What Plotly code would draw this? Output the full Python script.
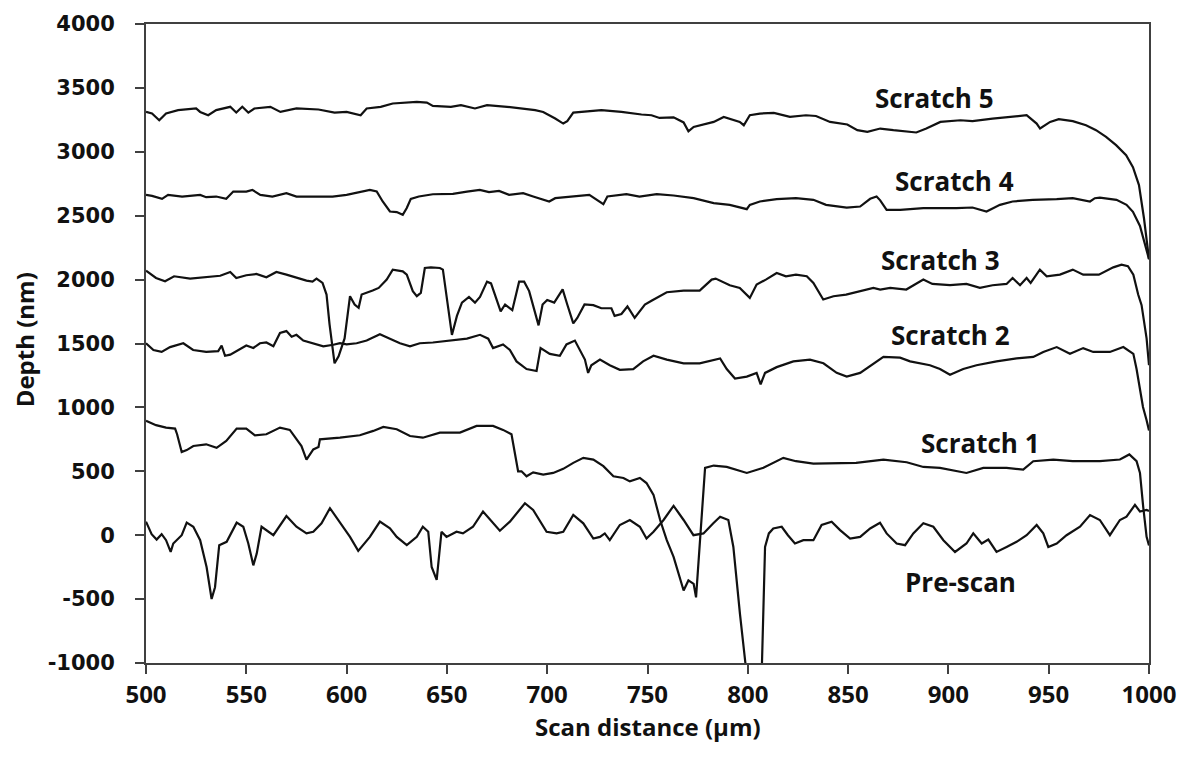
import plotly.graph_objects as go

# ---- data (x in µm, depth in nm) ----
scratch5 = [(500,3312),(503,3300),(506.6,3247),(510,3300),(516,3326),(525,3339),(527,3312),(531,3286),(535,3326),(542,3352),(545,3307),(548,3352),(551,3307),(554,3339),(562,3352),(567,3312),(575,3339),(586,3331),(594,3307),(600,3312),(607,3286),(610,3339),(617,3352),(623,3378),(635,3391),(640,3385),(643,3359),(652,3352),(657,3365),(664,3339),(670,3365),(680,3352),(694,3326),(698,3312),(704,3260),(708,3221),(710,3240),(713,3307),(727,3326),(737,3312),(747,3292),(752,3286),(756,3265),(763,3270),(768,3230),(770.4,3160),(773,3195),(783,3234),(788,3273),(796,3234),(798,3208),(801,3286),(806,3299),(813,3305),(821,3273),(829,3286),(834,3280),(841,3234),(849.6,3214),(854.6,3169),(859.6,3156),(866,3182),(872.6,3169),(879,3156),(884,3151),(889,3182),(896,3234),(906,3247),(912,3240),(922,3260),(929,3273),(939,3286),(944,3221),(945.7,3182),(950.7,3234),(955,3255),(962,3240),(968.6,3208),(973.6,3169),(978.6,3117),(983.6,3052),(988.6,2974),(992,2880),(995,2740),(997.5,2480),(999,2300),(1000,2160)]

scratch4 = [(500,2663),(503,2655),(508,2632),(511,2663),(518,2650),(522,2658),(527,2663),(530,2645),(535,2650),(540,2632),(543.5,2689),(550,2689),(553,2702),(557,2663),(563,2650),(570,2676),(575,2650),(583,2650),(593,2650),(600,2663),(606.6,2684),(611.6,2702),(615,2689),(618,2611),(621.6,2533),(625,2528),(628,2507),(630,2560),(632,2632),(636,2650),(643,2668),(653,2671),(660,2689),(666.4,2702),(671,2684),(676,2694),(681,2663),(688,2676),(693,2650),(701,2611),(704,2637),(713,2650),(721,2663),(728,2590),(730,2650),(739.5,2668),(746,2650),(754.6,2668),(763,2658),(773,2637),(783,2598),(791,2585),(799.5,2551),(801,2585),(806,2611),(814.4,2629),(824,2637),(832.7,2624),(839,2585),(849.3,2564),(856,2572),(861,2632),(864.2,2650),(866,2620),(869.2,2546),(876,2546),(887.5,2559),(904,2559),(912,2564),(919,2533),(925.7,2585),(932,2611),(942,2624),(954,2629),(962,2637),(970.6,2611),(973,2637),(975.5,2642),(983.8,2624),(988.8,2585),(992,2530),(995.5,2420),(998.5,2260),(1000,2160)]

scratch3 = [(500,2070),(505,2013),(509.5,1987),(514,2026),(522,2008),(530,2018),(537,2030),(542,2060),(545,2013),(550,2034),(555,2044),(560,2018),(565,2060),(570,2039),(575,2013),(580,1992),(583,1985),(585,2008),(588,1974),(590,1883),(591.5,1650),(594,1345),(596,1400),(599,1540),(601.7,1870),(604,1805),(606,1779),(607.5,1883),(613,1914),(616,1935),(620,2000),(623,2078),(628,2065),(630,2039),(633,1909),(635,1870),(637,1896),(639,2091),(642,2096),(646.5,2091),(648,2078),(650,1831),(652.5,1567),(655,1716),(657.5,1820),(661,1865),(664,1820),(666.5,1865),(670,1984),(672,1970),(675,1835),(676.8,1752),(679,1805),(682.6,1761),(686,1984),(688.5,1984),(691,1910),(693.5,1776),(695.7,1642),(697.7,1805),(700,1841),(703.5,1820),(707.7,1924),(710,1805),(713,1657),(715,1700),(718.6,1805),(723,1800),(727,1776),(732,1776),(733.6,1716),(737,1731),(740,1790),(743.6,1701),(748.7,1805),(752,1835),(759.6,1901),(768,1914),(776,1914),(782,2000),(784,2008),(791,1956),(796,1935),(801,1857),(804.4,1961),(809,2000),(814.4,2052),(819,2026),(824,2039),(829.4,2026),(832.7,1974),(837.6,1844),(842.7,1870),(849,1883),(856,1909),(862.6,1935),(866,1922),(871,1935),(879,1922),(887.5,2000),(892,1966),(900.8,1956),(909,1966),(915.7,1935),(922,1956),(929,1966),(932,2013),(935.7,1956),(939,2013),(941,1974),(945.6,2078),(949,2026),(955.6,2039),(962,2078),(967.2,2039),(975,2039),(982.2,2096),(986.3,2117),(989.5,2105),(992.2,2039),(994.6,1883),(996.3,1800),(998.8,1540),(1000,1330)]

scratch2 = [(500,1502),(503.7,1449),(507.8,1434),(512,1472),(518.6,1502),(523.5,1449),(530,1434),(536,1440),(537.7,1484),(539.4,1404),(542,1413),(546.8,1455),(550,1484),(553.5,1465),(556.8,1502),(560,1508),(563.5,1478),(566.8,1582),(570,1597),(572.6,1553),(575,1568),(578.4,1523),(583.5,1502),(588.4,1478),(593.4,1490),(596.7,1502),(600,1493),(605,1502),(610,1523),(616.6,1573),(621.6,1538),(626.6,1502),(631.6,1478),(636.5,1502),(643,1508),(651.5,1523),(660,1538),(666.5,1568),(670.6,1538),(673,1464),(678,1493),(681.4,1449),(684.7,1360),(689.7,1300),(694.7,1285),(696.7,1464),(701.3,1419),(706.3,1404),(709.6,1493),(713.8,1523),(716.3,1449),(718.8,1374),(720.4,1270),(722,1330),(726.3,1374),(731.2,1330),(736.2,1294),(742.9,1300),(747.8,1360),(753,1404),(759.6,1374),(768,1345),(776,1345),(786.2,1383),(789.5,1300),(793.6,1226),(799.5,1241),(804.4,1270),(806.4,1181),(808.6,1270),(814.4,1315),(822.7,1360),(831,1374),(837.7,1345),(844.3,1270),(849.3,1241),(856,1270),(862.6,1345),(867.6,1395),(875.9,1389),(880.9,1360),(890.8,1330),(895.8,1300),(900.8,1255),(907.4,1300),(914,1330),(924,1360),(934,1383),(942.3,1395),(947.3,1434),(954,1472),(960.6,1419),(967.2,1464),(972.2,1434),(980.5,1434),(987.2,1472),(992.2,1419),(993.8,1300),(997,1003),(998.8,900),(1000,820)]

scratch1 = [(500,895),(505,861),(510,842),(514.5,834),(515.5,790),(517.8,650),(520.3,666),(523.6,698),(530,711),(535.2,684),(540,737),(545.2,834),(550,834),(554.3,782),(560,790),(566.8,842),(571.7,824),(575,750),(577.5,698),(580,592),(583.4,671),(586,690),(586.7,750),(596.7,763),(606.6,782),(613.3,816),(618.3,847),(625,829),(631.6,776),(638,763),(646.5,803),(656.5,803),(664.8,855),(673,855),(678,824),(682.2,790),(683.9,645),(685.5,500),(687.2,500),(689.7,461),(693,492),(698,474),(703,487),(708,519),(713,566),(718,605),(723,592),(728,540),(733,461),(738,448),(741.2,421),(746.2,448),(749.5,408),(753,316),(756.3,119),(759.6,-39),(763,-170),(766.2,-328),(768,-433),(770.4,-354),(773,-381),(774.2,-486),(776.2,-13),(778.7,527),(783,545),(789.5,534),(799.5,487),(807.8,527),(817.7,605),(824,579),(832.7,560),(846,566),(854,566),(867.6,592),(879.2,571),(887.5,534),(895.8,527),(909,487),(917.4,527),(929,527),(937.3,513),(942.3,579),(952.3,592),(962,579),(975.5,579),(985.5,592),(990.2,632),(993.8,579),(995.5,487),(997.1,224),(998.8,-13),(1000,-80)]

prescan = [(500,106),(502.8,8),(505.3,-34),(507.8,8),(510,-39),(512.3,-131),(513.6,-65),(517.8,0),(520.3,98),(523.6,66),(527,-39),(530.2,-249),(532.7,-499),(534.4,-407),(536.5,-78),(540.2,-52),(545.2,98),(548.5,66),(551,-65),(553.5,-236),(555.2,-144),(557.6,66),(563.5,0),(570,150),(575,66),(580,14),(583.4,27),(587.5,93),(591.7,211),(596.7,98),(601.7,-13),(605.8,-123),(611.6,-13),(616.6,106),(621.6,53),(625,-13),(630,-78),(635,-13),(638,66),(640.7,27),(642.4,-249),(644.9,-349),(647.3,27),(649.8,-13),(654.8,27),(658,14),(663,66),(668,185),(673,93),(676.4,35),(681.4,106),(688.9,250),(693,198),(699.7,27),(704.7,14),(708,27),(713,158),(718,93),(723,-26),(726.3,-13),(728.7,14),(731.2,-39),(736.2,80),(741.2,119),(746.2,66),(749.5,-26),(753,27),(758,119),(763,230),(768,119),(772.9,0),(777.9,14),(782.8,93),(786.2,145),(790.3,119),(792.8,-92),(796.1,-617),(799.5,-1100),(806,-1100),(807,-1040),(808.6,-92),(810.5,14),(812.7,53),(816.9,66),(820,0),(823.5,-65),(827.7,-39),(832.7,-39),(836.8,80),(841.8,106),(846,40),(851,-26),(856,-13),(861,53),(865.9,98),(869.2,14),(874.2,-65),(878.4,-78),(882.5,14),(887.5,93),(892.5,66),(897.5,-39),(903.3,-131),(909,-65),(912.4,14),(916.6,-65),(919.9,-34),(924,-131),(929,-92),(934,-52),(939,0),(944,80),(947.3,14),(949.8,-92),(954,-65),(958.9,0),(965.6,66),(970.6,158),(975.5,119),(980.5,0),(985.5,119),(988.8,145),(993,237),(995.5,185),(998.8,198),(1000,190)]

series = [("Scratch 5", scratch5), ("Scratch 4", scratch4), ("Scratch 3", scratch3),
          ("Scratch 2", scratch2), ("Scratch 1", scratch1), ("Pre-scan", prescan)]

# label anchor points (data coords)
label_names = ["Scratch 5", "Scratch 4", "Scratch 3", "Scratch 2", "Scratch 1", "Pre-scan"]
label_x = [893, 903, 896, 901, 916, 906]
label_y = [3420, 2768, 2151, 1566, 724, -368]

x_ticks = [500, 550, 600, 650, 700, 750, 800, 850, 900, 950, 1000]
y_ticks = [-1000, -500, 0, 500, 1000, 1500, 2000, 2500, 3000, 3500, 4000]
y_tick_labels = ["-1000", "-500", "0", "500", "1000", "1500", "2000", "2500", "3000", "3500", "4000"]

fig = go.Figure()
for name, pts in series:
    fig.add_trace(go.Scatter(
        x=[p[0] for p in pts], y=[p[1] for p in pts], mode="lines", name=name,
        line=dict(color="#111111", width=2.2), showlegend=False, hoverinfo="skip"))

for n, lx, ly in zip(label_names, label_x, label_y):
    fig.add_annotation(x=lx, y=ly, text=n, showarrow=False,
                       font=dict(family="Open Sans", size=26, color="#111111", weight="bold"))

axis_common = dict(showline=True, linecolor="#404040", linewidth=2, mirror=True,
                   ticks="outside", ticklen=9, tickwidth=2, tickcolor="#404040",
                   showgrid=False, zeroline=False)

fig.update_xaxes(range=[500, 1000], tickvals=x_ticks, ticklabelstandoff=0,
                 tickfont=dict(family="Open Sans", size=24, color="#111111", weight="bold"),
                 **axis_common)
fig.update_yaxes(range=[-1000, 4000], tickvals=y_ticks, ticktext=y_tick_labels,
                 ticklabelstandoff=16,
                 tickfont=dict(family="DejaVu Sans", size=21, color="#111111", weight="bold"),
                 **axis_common)

fig.add_annotation(xref="paper", yref="paper", x=0.5, y=-0.0997, yanchor="middle",
                   text="Scan distance (μm)", showarrow=False,
                   font=dict(family="Open Sans", size=24, color="#111111", weight="bold"))
fig.add_annotation(xref="paper", yref="paper", x=-0.1216, y=0.505, xanchor="center",
                   yanchor="middle", textangle=-90, text="Depth (nm)", showarrow=False,
                   font=dict(family="Open Sans", size=24, color="#111111", weight="bold"))

fig.update_layout(width=1190, height=763, paper_bgcolor="white", plot_bgcolor="white",
                  margin=dict(l=146, r=41, t=21, b=100))

# remove the browser's default body margin so the figure sits at the page origin
fig.write_html("out.html", config={"displayModeBar": False},
               post_script="document.body.style.margin='0';document.body.style.overflow='hidden';")
